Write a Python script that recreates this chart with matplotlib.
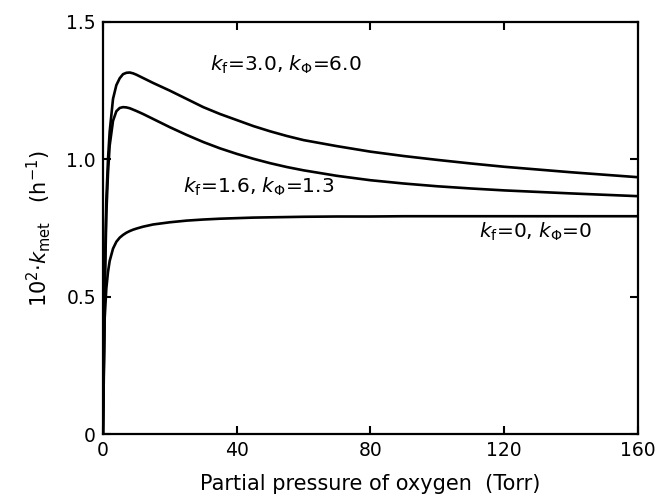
import matplotlib
matplotlib.use("Agg")
import matplotlib.pyplot as plt
from matplotlib.ticker import FuncFormatter

plt.rcParams['font.family'] = ['DejaVu Sans']
plt.rcParams['mathtext.fontset'] = 'dejavusans'

# 氧分压 (Torr)
po2 = [0, 0.5, 1, 1.5, 2, 3, 4, 5, 6, 7, 8, 9, 10, 12, 15, 20, 25, 30, 35, 40, 45, 50,
       55, 60, 70, 80, 90, 100, 110, 120, 140, 160]

# k_f=3.0, k_phi=6.0
k_high = [0, 0.55, 0.85, 1.0, 1.1, 1.22, 1.27, 1.295, 1.31, 1.315, 1.316, 1.313, 1.308,
          1.296, 1.278, 1.25, 1.22, 1.19, 1.165, 1.143, 1.121, 1.102, 1.085, 1.07,
          1.048, 1.028, 1.012, 0.998, 0.985, 0.973, 0.953, 0.935]
# k_f=1.6, k_phi=1.3
k_mid = [0, 0.5, 0.8, 0.95, 1.05, 1.14, 1.175, 1.187, 1.19, 1.189, 1.186, 1.181, 1.176,
         1.165, 1.147, 1.117, 1.089, 1.063, 1.04, 1.02, 1.002, 0.986, 0.972, 0.96,
         0.94, 0.924, 0.912, 0.902, 0.894, 0.887, 0.876, 0.866]
# k_f=0, k_phi=0
k_zero = [0, 0.42, 0.53, 0.59, 0.63, 0.675, 0.70, 0.715, 0.725, 0.733, 0.739, 0.744, 0.748,
          0.755, 0.763, 0.771, 0.777, 0.781, 0.784, 0.786, 0.788, 0.789, 0.79, 0.791,
          0.792, 0.792, 0.793, 0.793, 0.793, 0.793, 0.793, 0.793]

labels = [r'$k_\mathrm{f}$=3.0, $k_\Phi$=6.0',
          r'$k_\mathrm{f}$=1.6, $k_\Phi$=1.3',
          r'$k_\mathrm{f}$=0, $k_\Phi$=0']

fig = plt.figure(figsize=(6.58, 4.99), dpi=100)
ax = fig.add_axes([0.1565, 0.130, 0.813, 0.826])

for ys in (k_high, k_mid, k_zero):
    ax.plot(po2, ys, color='black', lw=1.9)

ax.text(32, 1.345, labels[0], fontsize=14.5, va='center')
ax.text(24, 0.90, labels[1], fontsize=14.5, va='center')
ax.text(112.5, 0.735, labels[2], fontsize=14.5, va='center')

ax.set_xlim(0, 160)
ax.set_ylim(0, 1.5)
ax.set_xticks([0, 40, 80, 120, 160])
ax.set_yticks([0, 0.5, 1.0, 1.5])
ax.yaxis.set_major_formatter(FuncFormatter(lambda v, p: '0' if v == 0 else f'{v:.1f}'))
ax.tick_params(direction='in', length=6, width=1.5, top=True, right=True,
               labelsize=13.5, pad=5)
for s in ax.spines.values():
    s.set_linewidth(1.6)

ax.set_xlabel('Partial pressure of oxygen  (Torr)', fontsize=15, labelpad=10)
ax.set_ylabel(r'10$^2$$\cdot$$k_\mathrm{met}$   (h$^{-1}$)', fontsize=15, labelpad=10)

fig.savefig('out.png', dpi=100)
